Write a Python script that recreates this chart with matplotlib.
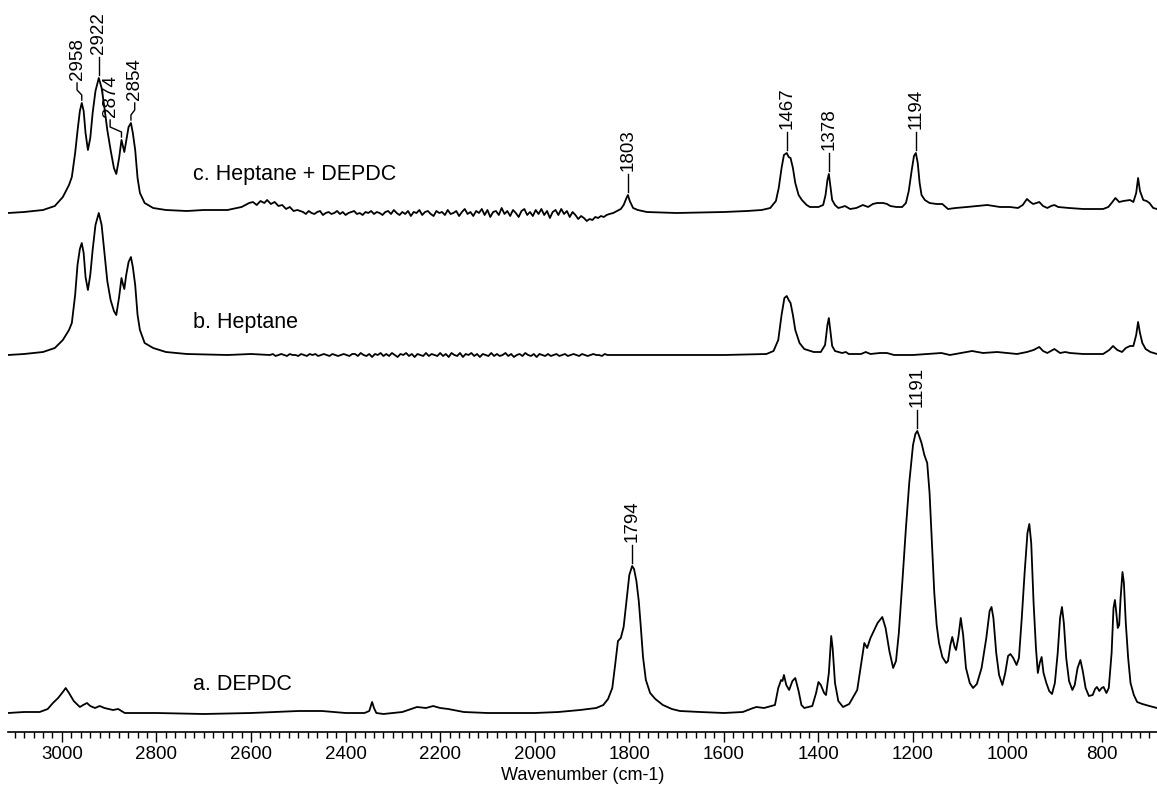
import numpy as np
import matplotlib.pyplot as plt
from matplotlib.ticker import MultipleLocator

plt.rcParams['font.family'] = ['Liberation Sans', 'DejaVu Sans']

# c. Heptane + DEPDC  (absorbance, baseline-corrected)
c_wn_head = [3114, 3080, 3040, 3015, 2998, 2985, 2979, 2972, 2967, 2962,
             2958, 2954, 2950, 2945, 2940, 2935, 2929, 2922, 2916, 2910,
             2904, 2897, 2890, 2885, 2879, 2874, 2871, 2868, 2864, 2859,
             2854, 2850, 2845, 2840, 2835, 2825, 2807, 2780, 2736, 2700,
             2650, 2620, 2604, 2596, 2588, 2580, 2572, 2566, 2558, 2550,
             2542, 2534, 2526, 2518, 2510, 2502]
c_abs_head = [0.00, 0.01, 0.03, 0.07, 0.16, 0.28, 0.36, 0.60, 0.82, 1.02,
              1.10, 1.02, 0.80, 0.63, 0.75, 1.00, 1.22, 1.35, 1.25, 1.05,
              0.83, 0.63, 0.45, 0.39, 0.55, 0.73, 0.67, 0.61, 0.72, 0.86,
              0.90, 0.80, 0.63, 0.35, 0.20, 0.10, 0.05, 0.03, 0.02, 0.03,
              0.03, 0.06, 0.10, 0.11, 0.08, 0.12, 0.10, 0.13, 0.09, 0.11,
              0.07, 0.08, 0.04, 0.06, 0.02, 0.03]
c_noise_wn = np.arange(2490, 1841, -6)
c_noise = [0.01, -0.01, 0.02, 0.00, -0.01, 0.01, 0.02, -0.02, 0.00, 0.01,
           -0.01, 0.00, 0.02, -0.01, 0.01, -0.02, 0.00, 0.01, 0.02, -0.01,
           0.00, -0.02, 0.01, 0.00, 0.02, -0.01, 0.01, 0.00, -0.02, 0.01,
           0.02, -0.01, 0.03, 0.00, -0.02, 0.01, -0.01, 0.02, -0.03, 0.01,
           0.00, 0.03, -0.02, 0.01, 0.02, -0.01, -0.03, 0.02, 0.00, 0.01,
           -0.02, 0.03, -0.01, 0.00, 0.02, -0.03, 0.01, 0.04, -0.01, 0.01,
           -0.03, 0.02, 0.00, 0.04, -0.02, 0.03, -0.04, 0.01, 0.02, -0.02,
           0.05, -0.01, 0.02, -0.03, 0.03, 0.00, -0.04, 0.02, 0.04, -0.02,
           0.01, -0.03, 0.03, -0.01, 0.04, -0.02, 0.02, -0.05, 0.01, 0.03,
           -0.02, 0.04, -0.01, 0.02, -0.04, 0.01, -0.02, -0.06, -0.03, -0.05,
           -0.08, -0.06, -0.07, -0.04, -0.05, -0.03, -0.04, -0.02, -0.01]
c_wn_tail = [1834, 1826, 1818, 1812, 1806, 1803, 1799, 1792, 1782, 1763,
             1700, 1600, 1551, 1520, 1502, 1490, 1484, 1478, 1473, 1467,
             1463, 1459, 1454, 1449, 1442, 1435, 1425, 1418, 1400, 1390,
             1385, 1381, 1378, 1375, 1371, 1365, 1358, 1350, 1344, 1333,
             1320, 1306, 1295, 1285, 1276, 1263, 1255, 1248, 1235, 1223,
             1215, 1209, 1203, 1198, 1194, 1190, 1186, 1182, 1175, 1165,
             1150, 1138, 1126, 1110, 1086, 1065, 1043, 1030, 1016, 995,
             978, 968, 959, 952, 946, 939, 933, 925, 916, 908,
             901, 893, 870, 840, 810, 798, 787, 780, 772, 764,
             755, 741, 734, 728, 724, 720, 713, 706, 700, 692,
             684]
c_abs_tail = [0.00, 0.02, 0.04, 0.08, 0.15, 0.18, 0.12, 0.05, 0.03, 0.01,
              0.00, 0.01, 0.02, 0.03, 0.05, 0.12, 0.25, 0.45, 0.58, 0.60,
              0.56, 0.55, 0.45, 0.30, 0.18, 0.13, 0.08, 0.06, 0.06, 0.08,
              0.18, 0.33, 0.39, 0.28, 0.13, 0.08, 0.05, 0.06, 0.07, 0.04,
              0.05, 0.08, 0.06, 0.09, 0.10, 0.10, 0.09, 0.07, 0.06, 0.06,
              0.10, 0.22, 0.42, 0.57, 0.60, 0.50, 0.30, 0.18, 0.13, 0.10,
              0.09, 0.09, 0.04, 0.05, 0.06, 0.07, 0.08, 0.07, 0.06, 0.06,
              0.05, 0.08, 0.14, 0.11, 0.09, 0.10, 0.11, 0.07, 0.05, 0.07,
              0.08, 0.06, 0.05, 0.04, 0.04, 0.04, 0.06, 0.10, 0.15, 0.11,
              0.12, 0.13, 0.11, 0.20, 0.35, 0.22, 0.13, 0.12, 0.10, 0.05,
              0.04]

# b. Heptane
b_wn_head = [3114, 3080, 3040, 3015, 2998, 2985, 2979, 2972, 2967, 2962,
             2958, 2954, 2950, 2945, 2940, 2935, 2929, 2922, 2916, 2910,
             2904, 2897, 2890, 2885, 2879, 2874, 2871, 2868, 2864, 2859,
             2854, 2850, 2845, 2840, 2835, 2825, 2807, 2780, 2736, 2650,
             2600]
b_abs_head = [0.00, 0.01, 0.03, 0.07, 0.15, 0.25, 0.32, 0.60, 0.90, 1.06,
              1.12, 1.02, 0.78, 0.65, 0.80, 1.05, 1.30, 1.42, 1.30, 1.02,
              0.74, 0.55, 0.44, 0.40, 0.58, 0.77, 0.71, 0.66, 0.80, 0.93,
              0.98, 0.88, 0.70, 0.40, 0.25, 0.12, 0.07, 0.03, 0.01, 0.00,
              0.01]
b_noise_wn = np.arange(2560, 1839, -6)
b_noise = [0.00, 0.01, -0.01, 0.00, 0.01, 0.00, -0.01, 0.01, 0.00, 0.00,
           -0.01, 0.01, 0.00, -0.01, 0.01, 0.00, 0.01, -0.01, 0.00, 0.01,
           0.00, -0.01, 0.01, 0.00, -0.01, 0.00, 0.01, 0.00, -0.01, 0.01,
           0.01, -0.01, 0.02, 0.00, -0.01, 0.01, -0.02, 0.01, 0.00, 0.02,
           -0.01, 0.01, -0.01, 0.02, 0.00, -0.02, 0.01, 0.00, 0.02, -0.01,
           0.01, -0.02, 0.01, 0.00, -0.01, 0.02, -0.01, 0.01, 0.00, -0.01,
           0.02, -0.01, 0.01, -0.02, 0.02, 0.00, -0.01, 0.02, -0.02, 0.01,
           0.00, 0.02, -0.01, 0.01, -0.02, 0.01, 0.00, -0.01, 0.02, -0.01,
           0.01, -0.01, 0.00, 0.02, -0.01, 0.01, -0.02, 0.00, 0.01, -0.01,
           0.02, 0.00, -0.01, 0.01, -0.02, 0.01, 0.00, -0.01, 0.01, -0.01,
           0.00, 0.01, -0.01, 0.00, 0.01, -0.01, 0.00, 0.01, 0.00, -0.01,
           0.01, 0.00, -0.01, 0.00, 0.01, 0.00, 0.00, -0.01, 0.01, 0.00,
           0.00]
b_wn_tail = [1830, 1780, 1600, 1510, 1495, 1485, 1478, 1472, 1467, 1463,
             1459, 1454, 1449, 1440, 1430, 1410, 1395, 1386, 1381, 1378,
             1375, 1371, 1365, 1350, 1342, 1336, 1310, 1300, 1290, 1270,
             1255, 1240, 1200, 1140, 1122, 1075, 1052, 1022, 980, 959,
             945, 933, 925, 916, 901, 889, 878, 868, 840, 798,
             785, 777, 768, 758, 750, 741, 734, 728, 724, 720,
             715, 708, 698, 684]
b_abs_tail = [0.00, 0.00, 0.00, 0.01, 0.04, 0.15, 0.40, 0.57, 0.59, 0.55,
              0.52, 0.40, 0.25, 0.12, 0.06, 0.03, 0.03, 0.10, 0.30, 0.37,
              0.25, 0.09, 0.04, 0.02, 0.03, 0.01, 0.01, 0.03, 0.01, 0.02,
              0.02, 0.00, 0.00, 0.02, 0.00, 0.04, 0.02, 0.03, 0.01, 0.03,
              0.05, 0.08, 0.04, 0.02, 0.06, 0.02, 0.03, 0.02, 0.01, 0.01,
              0.05, 0.09, 0.05, 0.03, 0.07, 0.09, 0.09, 0.20, 0.33, 0.22,
              0.12, 0.06, 0.03, 0.01]

# a. DEPDC
a_wn = [3114, 3080, 3047, 3030, 3019, 3008, 2998, 2992, 2985, 2975,
        2962, 2955, 2947, 2940, 2930, 2920, 2910, 2892, 2881, 2867,
        2800, 2700, 2600, 2500, 2450, 2400, 2360, 2350, 2344, 2340,
        2335, 2320, 2280, 2249, 2230, 2215, 2200, 2183, 2150, 2100,
        2000, 1950, 1904, 1870, 1855, 1845, 1836, 1830, 1824, 1818,
        1812, 1806, 1800, 1794, 1790, 1785, 1780, 1776, 1771, 1765,
        1756, 1745, 1729, 1710, 1693, 1650, 1600, 1560, 1538, 1531,
        1515, 1500, 1492, 1485, 1479, 1476, 1473, 1468, 1462, 1455,
        1449, 1442, 1436, 1430, 1413, 1405, 1400, 1395, 1388, 1384,
        1378, 1373, 1370, 1365, 1358, 1348, 1335, 1318, 1310, 1303,
        1297, 1290, 1283, 1275, 1265, 1258, 1250, 1242, 1236, 1230,
        1222, 1215, 1208, 1200, 1195, 1191, 1187, 1182, 1176, 1170,
        1165, 1160, 1155, 1150, 1145, 1138, 1130, 1126, 1121, 1117,
        1112, 1109, 1104, 1099, 1094, 1088, 1080, 1073, 1065, 1055,
        1045, 1038, 1034, 1030, 1024, 1018, 1011, 1005, 999, 994,
        988, 981, 976, 970, 964, 958, 954, 950, 945, 940,
        936, 932, 928, 924, 918, 912, 906, 900, 894, 889,
        885, 881, 876, 870, 863, 858, 852, 846, 841, 835,
        828, 820, 815, 811, 806, 801, 797, 791, 786, 780,
        776, 773, 770, 767, 764, 761, 757, 754, 750, 745,
        740, 733, 726, 715, 700, 684]
a_abs = [0.00, 0.01, 0.01, 0.04, 0.10, 0.15, 0.21, 0.25, 0.20, 0.12,
         0.06, 0.08, 0.10, 0.07, 0.05, 0.07, 0.05, 0.03, 0.04, 0.00,
         0.00, -0.01, 0.00, 0.02, 0.02, 0.00, 0.00, 0.02, 0.11, 0.05,
         0.00, -0.01, 0.01, 0.06, 0.05, 0.07, 0.05, 0.04, 0.01, 0.00,
         0.00, 0.01, 0.03, 0.05, 0.08, 0.14, 0.25, 0.48, 0.72, 0.75,
         0.86, 1.12, 1.38, 1.47, 1.44, 1.32, 1.12, 0.88, 0.56, 0.33,
         0.20, 0.14, 0.08, 0.04, 0.02, 0.01, 0.00, 0.01, 0.05, 0.06,
         0.05, 0.07, 0.08, 0.25, 0.33, 0.32, 0.38, 0.28, 0.23, 0.32,
         0.35, 0.22, 0.08, 0.05, 0.07, 0.20, 0.31, 0.28, 0.20, 0.18,
         0.40, 0.77, 0.65, 0.30, 0.12, 0.06, 0.09, 0.23, 0.48, 0.70,
         0.65, 0.75, 0.82, 0.90, 0.96, 0.85, 0.62, 0.45, 0.52, 0.80,
         1.35, 1.85, 2.30, 2.68, 2.79, 2.82, 2.77, 2.70, 2.58, 2.50,
         2.20, 1.70, 1.20, 0.88, 0.70, 0.56, 0.50, 0.52, 0.68, 0.76,
         0.66, 0.63, 0.76, 0.95, 0.78, 0.45, 0.30, 0.25, 0.29, 0.45,
         0.75, 1.02, 1.06, 0.95, 0.60, 0.38, 0.28, 0.40, 0.57, 0.59,
         0.55, 0.48, 0.55, 0.95, 1.40, 1.80, 1.89, 1.70, 1.10, 0.65,
         0.40, 0.50, 0.56, 0.40, 0.30, 0.22, 0.19, 0.30, 0.60, 0.95,
         1.06, 0.90, 0.55, 0.32, 0.23, 0.28, 0.45, 0.53, 0.42, 0.25,
         0.17, 0.18, 0.24, 0.26, 0.22, 0.25, 0.26, 0.20, 0.25, 0.60,
         1.05, 1.13, 1.00, 0.85, 0.88, 1.15, 1.41, 1.30, 0.90, 0.55,
         0.30, 0.18, 0.11, 0.09, 0.07, 0.05]

# labelled bands: position and sideways shift of the text (cm-1)
c_peaks = [2958, 2922, 2874, 2854, 1803, 1467, 1378, 1194]
c_shift = [10, 0, 24, -8, 0, 0, 0, 0]
a_peaks = [1794, 1191]
a_shift = [0, 0]

c_wn = np.concatenate([c_wn_head, c_noise_wn, c_wn_tail])
c_abs = np.concatenate([c_abs_head, c_noise, c_abs_tail])
b_wn = np.concatenate([b_wn_head, b_noise_wn, b_wn_tail])
b_abs = np.concatenate([b_abs_head, b_noise, b_abs_tail])
a_wn = np.array(a_wn)
a_abs = np.array(a_abs)

fig = plt.figure(figsize=(11.57, 7.85), dpi=100)
ax = fig.add_axes([8 / 1157, 53 / 785, 1149 / 1157, 732 / 785])

traces = [
    (a_wn, a_abs, 0.19, 'a. DEPDC', 0.23, a_peaks, a_shift),
    (b_wn, b_abs, 3.77, 'b. Heptane', 0.27, [], []),
    (c_wn, c_abs, 5.19, 'c. Heptane + DEPDC', 0.33, c_peaks, c_shift),
]

for wn, ab, off, name, name_y, peaks, shifts in traces:
    ax.plot(wn, ab + off, color='black', lw=1.3)
    ax.text(2723, off + name_y, name, fontsize=15.5, ha='left', va='baseline')
    for pk, sh in zip(peaks, shifts):
        top = np.interp(pk, wn[::-1], ab[::-1]) + off
        tx = pk + sh
        if sh:
            xs = [pk, pk, tx, tx]
            ys = [top + 0.03, top + 0.08, top + 0.13, top + 0.20]
        else:
            xs = [pk, pk]
            ys = [top + 0.03, top + 0.21]
        ax.plot(xs, ys, color='black', lw=1.0)
        ax.text(tx, ys[-1] + 0.03, str(pk), rotation=90, fontsize=13.5,
                ha='center', va='bottom')

ax.set_xlim(3114, 684)
ax.set_ylim(0, 7.32)
ax.set_xticks(range(3000, 700, -200))
ax.xaxis.set_minor_locator(MultipleLocator(20))
ax.tick_params(axis='x', which='major', direction='out', length=7, width=1,
               labelsize=13.5, pad=3)
ax.tick_params(axis='x', which='minor', direction='out', length=4.5, width=1)
ax.set_yticks([])
for side in ['left', 'right', 'top']:
    ax.spines[side].set_visible(False)
ax.spines['bottom'].set_linewidth(1.2)
ax.set_xlabel('Wavenumber (cm-1)', fontsize=13, labelpad=3)

fig.savefig('out.png', dpi=100)
